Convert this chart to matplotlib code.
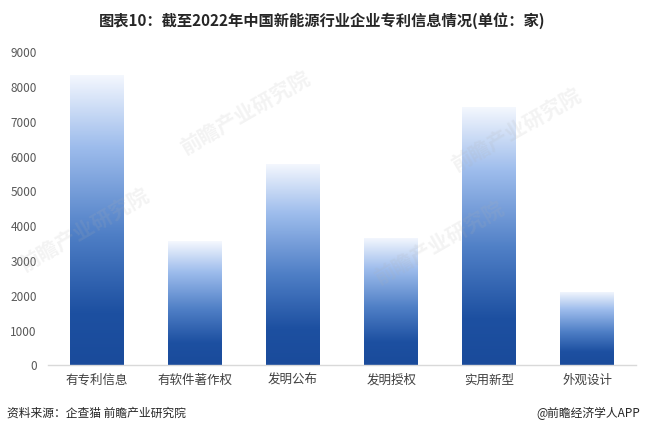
import matplotlib.pyplot as plt
import numpy as np
from matplotlib.colors import LinearSegmentedColormap

plt.rcParams['font.family'] = ['Noto Sans CJK SC', 'DejaVu Sans']

categories = ['有专利信息', '有软件著作权', '发明公布', '发明授权', '实用新型', '外观设计']
values = [8340, 3560, 5790, 3650, 7430, 2110]
yticks = [0, 1000, 2000, 3000, 4000, 5000, 6000, 7000, 8000, 9000]

title = '图表10：截至2022年中国新能源行业企业专利信息情况(单位：家)'
source = '资料来源：企查猫 前瞻产业研究院'
brand = '@前瞻经济学人APP'

cmap = LinearSegmentedColormap.from_list('blues', [
    (0.0, '#1a4b9b'), (0.18, '#1d50a1'), (0.45, '#4f7fc6'),
    (0.75, '#9dbcec'), (1.0, '#f5f8fe')])

fig = plt.figure(figsize=(6.45, 4.34), dpi=100)
ax = fig.add_axes([0.0744, 0.158, 0.912, 0.722])

x = np.arange(len(categories))
width = 0.55
bars = ax.bar(x, values, width, color='none', edgecolor='none', zorder=2)

grad = np.linspace(0, 1, 256).reshape(-1, 1)
for rect in bars:
    x0 = rect.get_x()
    h = rect.get_height()
    im = ax.imshow(grad, extent=[x0, x0 + rect.get_width(), 0, h], origin='lower',
                   aspect='auto', cmap=cmap, zorder=2)
    im.set_clip_path(rect)

ax.set_xlim(-0.5, len(categories) - 0.5)
ax.set_ylim(0, 9000)
ax.set_yticks(yticks)
ax.set_yticklabels([str(v) for v in yticks], fontsize=8.5, color='#595959')
ax.set_xticks(x)
ax.set_xticklabels(categories, fontsize=9, color='#404040')
ax.tick_params(length=0, pad=6)
ax.tick_params(axis='y', pad=8)
for s in ['top', 'right', 'left']:
    ax.spines[s].set_visible(False)
ax.spines['bottom'].set_color('#d9d9d9')
ax.spines['bottom'].set_linewidth(1)

# faint watermarks
for wx, wy in [(0.38, 0.74), (0.13, 0.47), (0.68, 0.44), (0.80, 0.70)]:
    fig.text(wx, wy, '前瞻产业研究院', fontsize=15, color='#b0b0b0', alpha=0.15,
             rotation=30, ha='center', va='center', fontweight='bold')

fig.text(0.5, 0.952, title, fontsize=11, fontweight='bold', color='#262626',
         ha='center', va='center')
fig.text(0.011, 0.048, source, fontsize=8.5, color='#262626', ha='left', va='center')
fig.text(0.993, 0.048, brand, fontsize=8.5, color='#262626', ha='right', va='center')

fig.savefig('out.png', dpi=100)
